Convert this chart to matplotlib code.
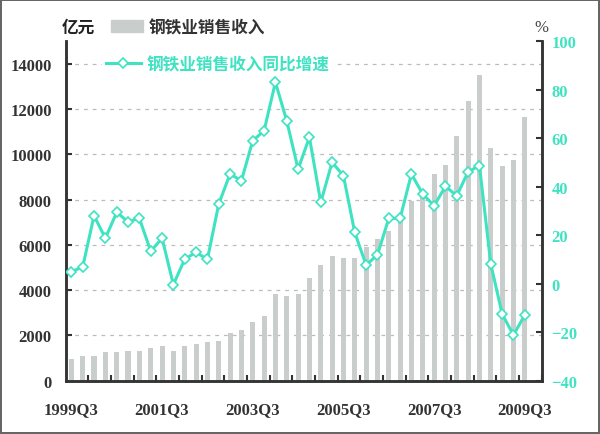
import numpy as np
import matplotlib
matplotlib.use("Agg")
import matplotlib.pyplot as plt
from matplotlib.patches import Patch
from matplotlib.lines import Line2D

# quarterly steel industry sales revenue (100m yuan) and yoy growth (%)
quarters = [f"{y}Q{q}" for y in range(1999, 2010) for q in range(1, 5)][2:43]
revenue = [956, 1075, 1075, 1250, 1250, 1320, 1320, 1425, 1515, 1320,
           1515, 1617, 1690, 1762, 2100, 2247, 2600, 2837, 3820, 3745,
           3850, 4530, 5090, 5520, 5440, 5440, 5900, 6240, 6600, 7100,
           7930, 8300, 9106, 9546, 10824, 12335, 13511, 10282, 9471, 9736,
           11648]
growth = [4.9, 6.9, 28.0, 18.7, 29.4, 25.5, 26.9, 13.4, 18.7, -0.4,
          10.1, 12.9, 10.0, 32.8, 45.2, 42.4, 58.9, 63.0, 83.0, 67.1,
          47.2, 60.3, 33.5, 50.0, 44.5, 21.1, 7.7, 11.8, 26.9, 26.9,
          45.2, 36.9, 32.1, 40.1, 36.2, 46.1, 48.6, 8.1, -12.5, -21.2,
          -12.9]
xlabels = ["1999Q3", "2001Q3", "2003Q3", "2005Q3", "2007Q3", "2009Q3"]
left_ticks = [0, 2000, 4000, 6000, 8000, 10000, 12000, 14000]
right_ticks = [-40, -20, 0, 20, 40, 60, 80, 100]

bar_name = "钢铁业销售收入"
line_name = "钢铁业销售收入同比增速"

teal = "#3fe3c2"
bar_gray = "#c9cdcc"
num_font = ["Liberation Serif", "DejaVu Serif"]
cjk_font = ["Noto Sans CJK SC", "DejaVu Sans"]

fig = plt.figure(figsize=(6, 4.35), dpi=100)
fig.patch.set_edgecolor("#666666")
fig.patch.set_linewidth(1.5)
ax = fig.add_axes([0.1095, 0.1225, 0.7935, 0.781])
ax2 = ax.twinx()

x = np.arange(len(revenue))
ax.bar(x, revenue, width=0.45, color=bar_gray, zorder=2)
ax.set_xlim(-0.5, 41.5)
ax.set_ylim(0, 15000)
ax.set_yticks(left_ticks)
ax.yaxis.grid(True, linestyle=(0, (3, 4)), color="#bbbbbb", linewidth=0.9)
ax.set_axisbelow(True)

ax2.plot(x, growth, color=teal, lw=2.2, marker="D", ms=5.5,
         mfc="white", mec=teal, mew=1.2, zorder=3)
ax2.set_ylim(-40, 100)
ax2.set_yticks(right_ticks)

# x axis: labels every 8 quarters, small marks between every 2 bars
ax.set_xticks([quarters.index(q) for q in xlabels])
ax.set_xticklabels(xlabels)
ax.set_xticks(np.arange(1.5, 41.6, 2), minor=True)
ax.tick_params(axis="x", which="major", length=0, pad=15, labelsize=12,
               labelcolor="#333333")
ax.tick_params(axis="x", which="minor", direction="in", length=4, width=1.5,
               color="#333333")
ax.tick_params(axis="y", direction="in", length=4, width=1.5, pad=10,
               labelsize=12, color="#333333", labelcolor="#333333")
ax2.tick_params(axis="y", direction="in", length=4, width=1.5, pad=7,
                labelsize=12, color="#333333", labelcolor=teal)
for lab in ax.get_xticklabels() + ax.get_yticklabels() + ax2.get_yticklabels():
    lab.set_family(num_font)
    lab.set_fontweight("bold")

for a in (ax, ax2):
    a.spines["top"].set_visible(False)
    for s in ("left", "right", "bottom"):
        a.spines[s].set_color("#333333")
        a.spines[s].set_linewidth(1.8)

# unit labels
fig.text(62 / 600, 1 - 28 / 435, "亿元", family=cjk_font, fontsize=12,
         fontweight="bold", color="#222222", va="center")
fig.text(534 / 600, 1 - 28 / 435, "%", family=num_font, fontsize=12,
         color="#444444", va="center")

# legends
leg1 = fig.legend(handles=[Patch(color=bar_gray)], labels=[bar_name],
                  loc="center left", bbox_to_anchor=(96 / 600, 1 - 28 / 435),
                  frameon=False, handlelength=1.9, handletextpad=0.35,
                  prop={"family": cjk_font, "size": 12, "weight": "bold"})
for t in leg1.get_texts():
    t.set_color("#333333")

line_h = Line2D([], [], color=teal, lw=2.2, marker="D", ms=5.5,
                mfc="white", mec=teal, mew=1.2)
leg2 = ax2.legend(handles=[line_h], labels=[line_name], loc="center left",
                  bbox_to_anchor=(94 / 600, 1 - 65 / 435),
                  bbox_transform=fig.transFigure, frameon=True,
                  facecolor="white", edgecolor="none", framealpha=1,
                  handlelength=2.1, handletextpad=0.35, borderpad=0.2,
                  prop={"family": cjk_font, "size": 12, "weight": "bold"})
for t in leg2.get_texts():
    t.set_color(teal)

fig.savefig("out.png", dpi=100)
